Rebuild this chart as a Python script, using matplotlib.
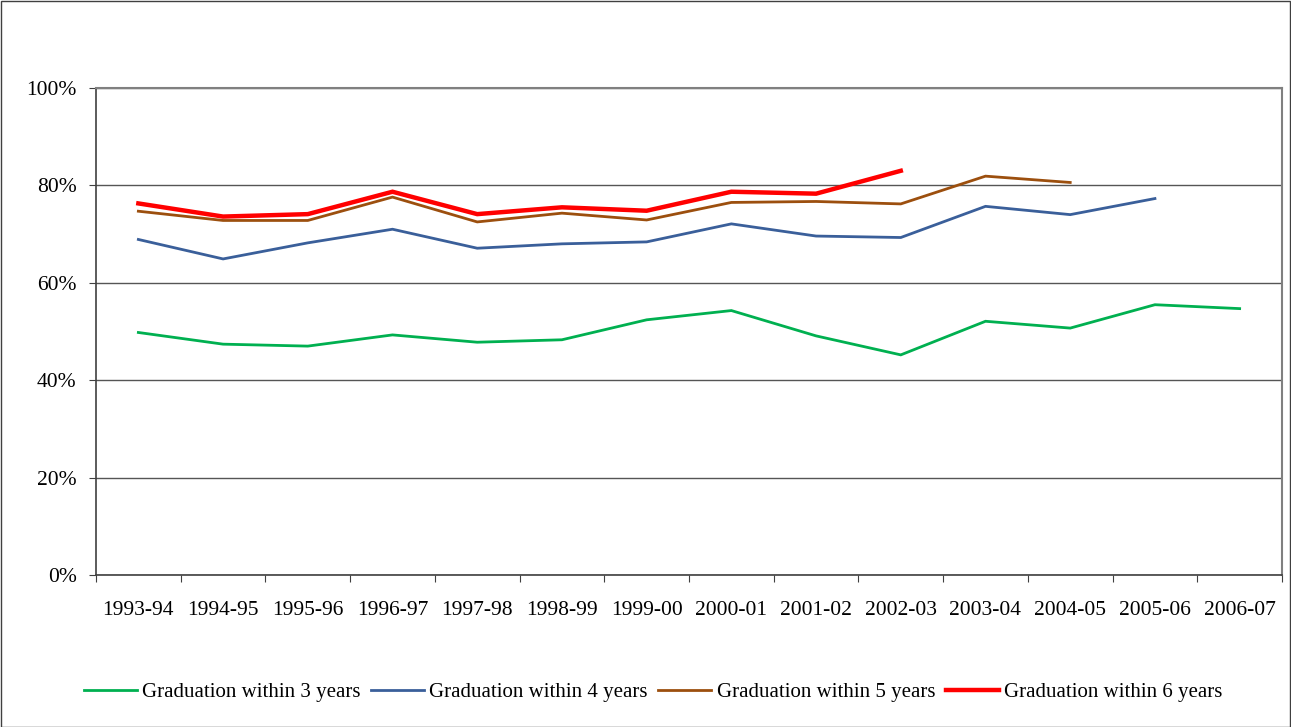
import matplotlib
matplotlib.use("Agg")
import matplotlib.pyplot as plt
from matplotlib.patches import Rectangle
import numpy as np

categories = ["1993-94", "1994-95", "1995-96", "1996-97", "1997-98", "1998-99", "1999-00",
              "2000-01", "2001-02", "2002-03", "2003-04", "2004-05", "2005-06", "2006-07"]
grad3 = [49.8, 47.4, 47.0, 49.3, 47.8, 48.3, 52.4, 54.3, 49.1, 45.2, 52.1, 50.7, 55.5, 54.7]
grad4 = [68.9, 64.9, 68.2, 71.0, 67.1, 68.0, 68.4, 72.1, 69.6, 69.3, 75.7, 74.0, 77.3]
grad5 = [74.7, 72.8, 72.8, 77.6, 72.5, 74.3, 72.9, 76.5, 76.7, 76.2, 81.9, 80.6]
grad6 = [76.3, 73.6, 74.1, 78.7, 74.1, 75.5, 74.8, 78.7, 78.3, 83.0]
series_labels = ["Graduation within 3 years", "Graduation within 4 years",
                 "Graduation within 5 years", "Graduation within 6 years"]
yticks = [0, 20, 40, 60, 80, 100]

plt.rcParams['font.family'] = ['Liberation Serif', 'DejaVu Serif']

W, H = 1291, 727
fig = plt.figure(figsize=(W / 100, H / 100), dpi=100)
ax = fig.add_axes([96 / W, 1 - 575 / H, (1282 - 96) / W, (575 - 88) / H])

colors = ["#00B050", "#3A5F9A", "#9C4F0E", "#FF0000"]
widths = [2.0, 2.0, 2.0, 3.2]
for data, c, lw, lab in zip([grad3, grad4, grad5, grad6], colors, widths, series_labels):
    x = np.arange(len(data))
    ax.plot(x, data, color=c, lw=lw, label=lab, solid_joinstyle='miter', zorder=3)

ax.set_xlim(-0.5, len(categories) - 0.5)
ax.set_ylim(0, 100)
ax.set_yticks(yticks)
ax.set_yticklabels([f"{v}%" for v in yticks], fontsize=15.5)
ax.set_xticks(np.arange(len(categories) + 1) - 0.5)
ax.set_xticklabels([])
ax.set_xticks(np.arange(len(categories)), minor=True)
ax.set_xticklabels(categories, minor=True, fontsize=15.5)
ax.tick_params(axis='x', which='minor', length=0, pad=19)
ax.tick_params(axis='x', which='major', length=5, direction='out', color='#404040')
ax.tick_params(axis='y', length=5, direction='out', color='#404040', pad=9)

ax.grid(axis='y', color='#555555', lw=1.0, zorder=1)
for s in ['top', 'right']:
    ax.spines[s].set_color('#808080')
    ax.spines[s].set_linewidth(1.5)
for s in ['left', 'bottom']:
    ax.spines[s].set_color('#404040')
    ax.spines[s].set_linewidth(1.2)

leg = fig.legend(loc='center', bbox_to_anchor=(653 / W, 1 - 692 / H), ncol=4, frameon=False,
                 fontsize=15, handlelength=2.55, handletextpad=0.25, columnspacing=0.5)

fig.patches.append(Rectangle((0.5 / W, 0.5 / H), 1 - 1.5 / W, 1 - 1.5 / H, transform=fig.transFigure,
                             fill=False, edgecolor='#404040', lw=1.0))

fig.savefig("out.png", dpi=100, facecolor='white')
